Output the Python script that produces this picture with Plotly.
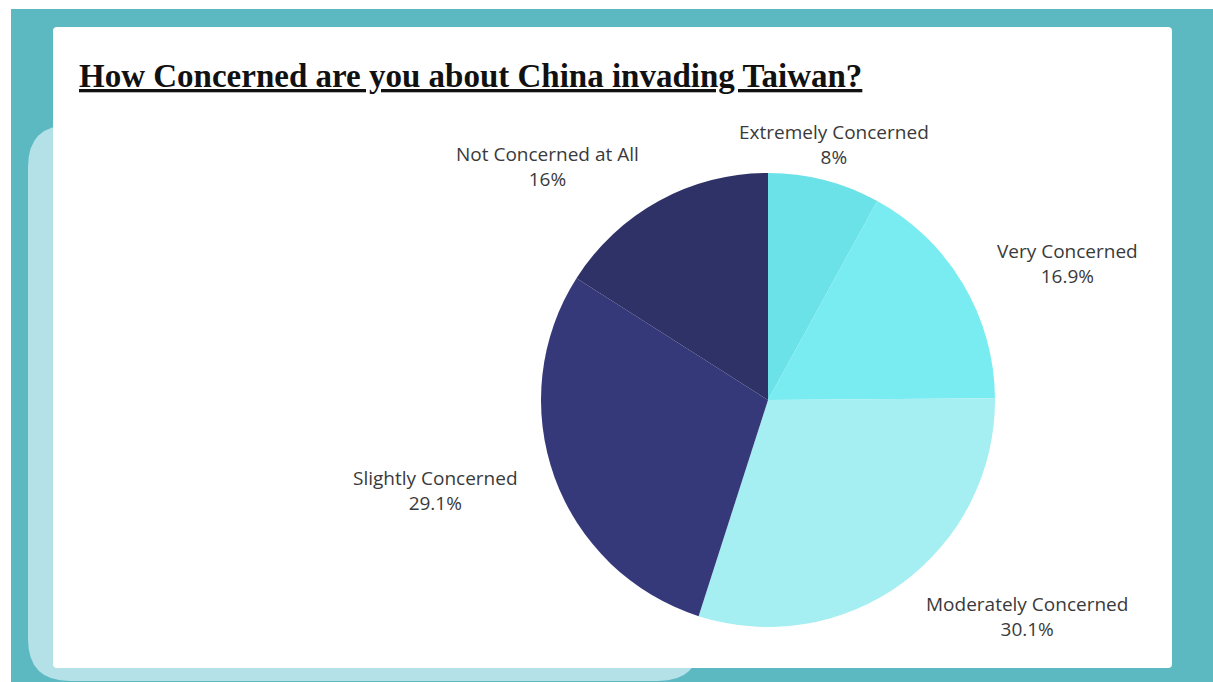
import math
import plotly.graph_objects as go

W, H = 1213, 682

categories = ["Extremely Concerned", "Very Concerned", "Moderately Concerned",
              "Slightly Concerned", "Not Concerned at All"]
values = [8, 16.9, 30.1, 29.1, 16]
colors = ["#6AE2E8", "#78ECF1", "#A5EEF2", "#35397A", "#2E3266"]
title_text = "How Concerned are you about China invading Taiwan?"


def px(x):
    return x / W


def py(y):
    return 1 - y / H


def rrect_path(x0, y0, x1, y1, r):
    return (f"M {px(x0 + r)},{py(y0)} L {px(x1 - r)},{py(y0)} "
            f"Q {px(x1)},{py(y0)} {px(x1)},{py(y0 + r)} "
            f"L {px(x1)},{py(y1 - r)} Q {px(x1)},{py(y1)} {px(x1 - r)},{py(y1)} "
            f"L {px(x0 + r)},{py(y1)} Q {px(x0)},{py(y1)} {px(x0)},{py(y1 - r)} "
            f"L {px(x0)},{py(y0 + r)} Q {px(x0)},{py(y0)} {px(x0 + r)},{py(y0)} Z")


cx, cy, R = 768, 400, 227

fig = go.Figure(go.Pie(
    labels=categories,
    values=values,
    sort=False,
    direction="clockwise",
    rotation=0,
    marker=dict(colors=colors, line=dict(width=0)),
    textinfo="none",
    hoverinfo="label+value",
    showlegend=False,
    domain=dict(x=[px(cx - R), px(cx + R)], y=[py(cy + R), py(cy - R)]),
))

# outside labels placed along each slice's mid-angle (derived from the data)
total = sum(values)
annotations = []
cum = 0.0
gap_x = 37
for name, v in zip(categories, values):
    mid = (cum + v / 2) / total * 2 * math.pi
    cum += v
    sx, cyv = math.sin(mid), math.cos(mid)
    xanchor = "left" if sx > 0.3 else ("right" if sx < -0.3 else "center")
    yanchor = "bottom" if cyv > 0.6 else ("top" if cyv < -0.6 else "middle")
    gap_y = 40 if yanchor == "middle" else 8
    ax = cx + sx * (R + gap_x)
    ay = cy - cyv * (R + gap_y)
    annotations.append(dict(
        text=f"{name}<br>{v:g}%", xref="paper", yref="paper",
        x=px(ax), y=py(ay), xanchor=xanchor, yanchor=yanchor,
        showarrow=False, align="center",
        font=dict(family="Open Sans", size=19, color="#3a3a3a"),
    ))

annotations.append(dict(
    text=f"<b><u>{title_text}</u></b>",
    xref="paper", yref="paper", x=px(77), y=py(76),
    xanchor="left", yanchor="middle", showarrow=False,
    font=dict(family="Liberation Serif", size=33, color="#111111"),
))

shapes = [
    dict(type="rect", xref="paper", yref="paper", x0=px(11), x1=1, y0=0, y1=py(9),
         fillcolor="#5CB9C2", line=dict(width=0), layer="below"),
    dict(type="path", xref="paper", yref="paper", path=rrect_path(28, 125, 700, 681, 42),
         fillcolor="#B3E1E7", line=dict(width=0), layer="below"),
    dict(type="path", xref="paper", yref="paper", path=rrect_path(53, 27, 1172, 668, 4),
         fillcolor="#FFFFFF", line=dict(width=0), layer="below"),
]

fig.update_layout(
    width=W, height=H,
    margin=dict(l=0, r=0, t=0, b=0),
    paper_bgcolor="#FFFFFF",
    plot_bgcolor="#FFFFFF",
    shapes=shapes,
    annotations=annotations,
)

fig.write_html("out.html", config={"displayModeBar": False},
               post_script="document.body.style.margin='0';document.body.style.overflow='hidden';")
